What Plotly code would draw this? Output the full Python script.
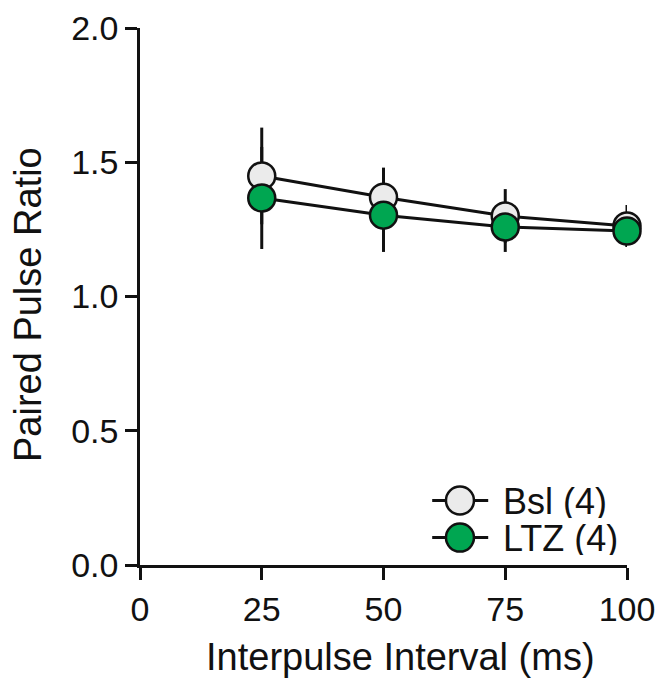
import plotly.graph_objects as go

intervals = [25, 50, 75, 100]
bsl_mean = [1.449, 1.370, 1.300, 1.263]
bsl_err = [0.18, 0.11, 0.10, 0.078]
ltz_mean = [1.367, 1.303, 1.259, 1.244]
ltz_err = [0.19, 0.137, 0.093, 0.06]
x_ticks = [0, 25, 50, 75, 100]
y_ticks = [0.0, 0.5, 1.0, 1.5, 2.0]
y_tick_text = ["0.0", "0.5", "1.0", "1.5", "2.0"]
series_names = ["Bsl (4)", "LTZ (4)"]
series_fill = ["#ebebeb", "#00a651"]

FONT = "Liberation Sans, Arial, sans-serif"
BLACK = "#111111"

fig = go.Figure()

# error bars first so all markers sit on top
for mean, err in [(bsl_mean, bsl_err), (ltz_mean, ltz_err)]:
    fig.add_trace(go.Scatter(
        x=intervals, y=mean, mode="markers",
        marker=dict(size=1, opacity=0),
        error_y=dict(type="data", array=err, visible=True, color=BLACK,
                     thickness=3, width=0),
        showlegend=False, hoverinfo="skip", cliponaxis=False,
    ))

for mean, name, fill in [(bsl_mean, series_names[0], series_fill[0]),
                         (ltz_mean, series_names[1], series_fill[1])]:
    fig.add_trace(go.Scatter(
        x=intervals, y=mean, mode="lines+markers", name=name,
        line=dict(color=BLACK, width=3),
        marker=dict(size=27, color=fill, line=dict(color=BLACK, width=2.5)),
        cliponaxis=False, showlegend=False,
    ))

# custom legend (large symbols like the reference)
shapes = []
annotations = []
legend_rows = [0.120, 0.051]
for yrow, name, fill in zip(legend_rows, series_names, series_fill):
    shapes.append(dict(type="line", xref="paper", yref="paper",
                       x0=0.600, x1=0.715, y0=yrow, y1=yrow,
                       line=dict(color=BLACK, width=3)))
    shapes.append(dict(type="circle", xref="paper", yref="paper",
                       xsizemode="pixel", ysizemode="pixel",
                       xanchor=0.657, yanchor=yrow,
                       x0=-14, x1=14, y0=-14, y1=14,
                       fillcolor=fill, line=dict(color=BLACK, width=2.5)))
    annotations.append(dict(text=name, xref="paper", yref="paper",
                            x=0.742, y=yrow, xanchor="left", yanchor="middle",
                            showarrow=False, font=dict(size=36), height=34,
                            valign="middle"))

annotations.append(dict(text="Interpulse Interval (ms)", xref="paper",
                        yref="paper", x=0.534, y=-0.172, xanchor="center",
                        yanchor="middle", showarrow=False,
                        font=dict(size=38)))
annotations.append(dict(text="Paired Pulse Ratio", xref="paper",
                        yref="paper", x=-0.230, y=0.486, xanchor="center",
                        yanchor="middle", showarrow=False, textangle=-90,
                        font=dict(size=38)))

fig.update_layout(
    width=661, height=678,
    margin=dict(l=140, r=34, t=28, b=113, autoexpand=False),
    paper_bgcolor="white", plot_bgcolor="white",
    font=dict(family=FONT, size=34, color=BLACK),
    showlegend=False,
    shapes=shapes, annotations=annotations,
    xaxis=dict(range=[0, 100], tickvals=x_ticks, ticks="outside", ticklen=12,
               tickwidth=2.5, tickcolor=BLACK, showline=True, linecolor=BLACK,
               linewidth=2.5, showgrid=False, zeroline=False,
               tickfont=dict(size=34), automargin=False),
    yaxis=dict(range=[0, 2], tickvals=y_ticks, ticktext=y_tick_text,
               ticks="outside", ticklen=12, tickwidth=2.5, tickcolor=BLACK,
               showline=True, linecolor=BLACK, linewidth=2.5, showgrid=False,
               zeroline=False, tickfont=dict(size=34), automargin=False),
)

fig.write_html(
    "out.html",
    config={"displayModeBar": False},
    post_script="document.body.style.margin='0';"
                "document.body.style.overflow='hidden';",
)
